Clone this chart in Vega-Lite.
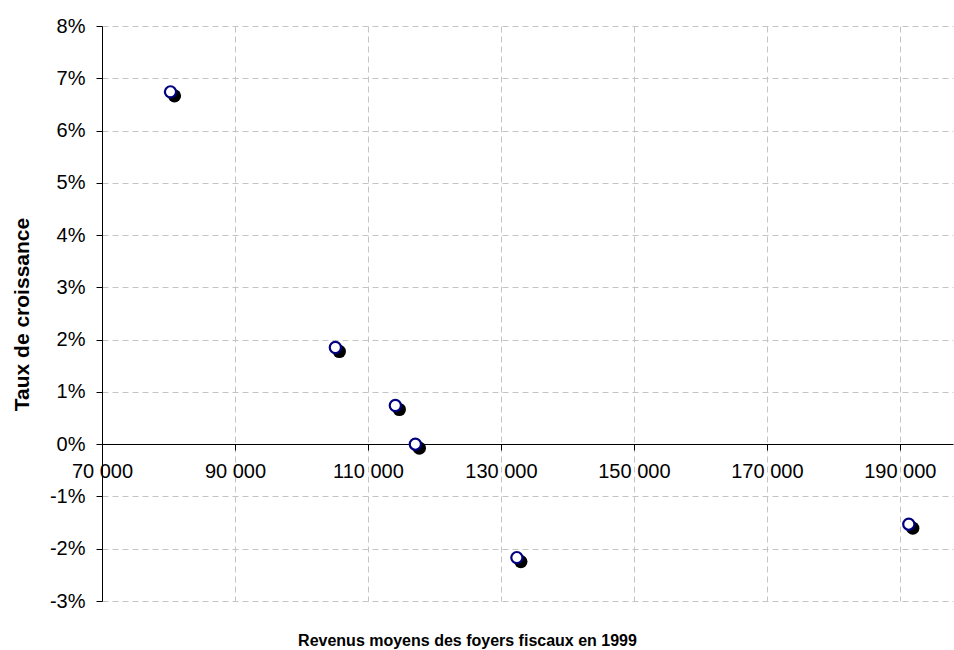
{
  "$schema": "https://vega.github.io/schema/vega-lite/v6.json",
  "width": 851,
  "height": 575,
  "autosize": {"type": "none"},
  "padding": {"left": 102, "top": 26, "right": 1, "bottom": 49},
  "background": "white",
  "config": {
    "font": "Liberation Sans",
    "view": {"stroke": null},
    "axis": {
      "labelFont": "Liberation Sans",
      "titleFont": "Liberation Sans",
      "labelColor": "black",
      "titleColor": "black",
      "domainColor": "black",
      "tickColor": "black",
      "gridColor": "#c4c4c4",
      "gridDash": [6, 4],
      "gridWidth": 1
    }
  },
  "data": {
    "values": [
      {"revenu": 80300, "taux": 6.74},
      {"revenu": 105100, "taux": 1.85},
      {"revenu": 114120, "taux": 0.74},
      {"revenu": 117130, "taux": 0.0},
      {"revenu": 132400, "taux": -2.17},
      {"revenu": 191350, "taux": -1.53}
    ]
  },
  "encoding": {
    "x": {
      "field": "revenu",
      "type": "quantitative",
      "scale": {"domain": [70000, 198000], "nice": false, "zero": false},
      "axis": {
        "values": [70000, 90000, 110000, 130000, 150000, 170000, 190000],
        "offset": -157,
        "labelExpr": "format(datum.value / 1000, 'd') + ' 000'",
        "labelFontSize": 20,
        "labelPadding": 11,
        "tickSize": 6,
        "labelFlush": false,
        "labelOverlap": false,
        "title": "Revenus moyens des foyers fiscaux en 1999",
        "titleFontSize": 16,
        "titleFontWeight": "bold",
        "titleY": 201,
        "titleBaseline": "alphabetic",
        "titleX": 365
      }
    },
    "y": {
      "field": "taux",
      "type": "quantitative",
      "scale": {"domain": [-3, 8], "nice": false, "zero": false},
      "axis": {
        "values": [-3, -2, -1, 0, 1, 2, 3, 4, 5, 6, 7, 8],
        "labelExpr": "(datum.value < 0 ? '-' : '') + abs(datum.value) + '%'",
        "labelFontSize": 20,
        "labelPadding": 11,
        "tickSize": 6,
        "labelOverlap": false,
        "title": "Taux de croissance",
        "titleFontSize": 21,
        "titleFontWeight": "bold",
        "titleAngle": 270,
        "titleX": -74,
        "titleY": 288,
        "titleAlign": "center",
        "titleBaseline": "alphabetic"
      }
    }
  },
  "layer": [
    {
      "mark": {"type": "point", "shape": "circle", "filled": true, "color": "black", "size": 175, "xOffset": 4, "yOffset": 4, "opacity": 1}
    },
    {
      "mark": {"type": "point", "shape": "circle", "filled": true, "fill": "white", "stroke": "#000080", "strokeWidth": 2.2, "size": 125, "opacity": 1}
    }
  ]
}
